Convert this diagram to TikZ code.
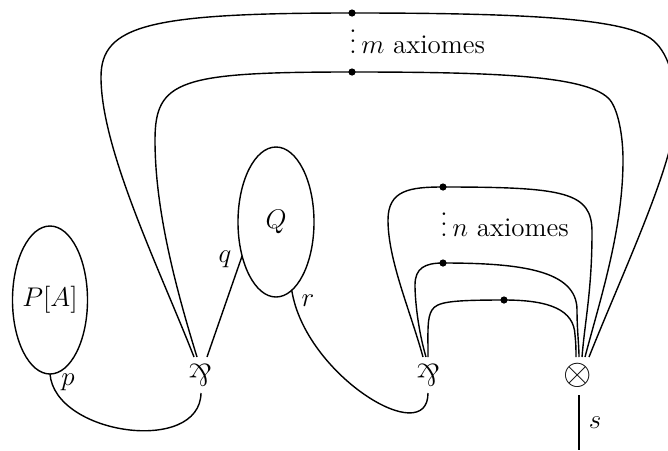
\RequirePackage{fix-cm}
\documentclass[tikz,border=0pt]{standalone}
\usetikzlibrary{shapes.geometric,calc}
\newcommand{\axdots}{\vbox{\baselineskip5.2pt\lineskiplimit0pt\hbox{.}\hbox{.}\hbox{.}}}
\begin{document}
\begin{tikzpicture}[x=0.5pt,y=-0.5pt,
  every node/.style={font=\fontsize{13.5}{16}\selectfont},
  wire/.style={line width=0.7pt},
  blob/.style={draw,ellipse,line width=0.7pt,inner sep=0pt,outer sep=0pt},
  dot/.style={circle,fill,inner sep=0pt,minimum size=3.6pt},
  lbl/.style={inner sep=0pt}]
\useasboundingbox (0,0) rectangle (668,450);

% proof structures
\node[blob,minimum width=37.5pt,minimum height=74pt] (P) at (50,300) {\makebox[0pt]{$P[A]$}};
\node[blob,minimum width=38pt,minimum height=75pt] (Q) at (276,222) {$Q$};

% links
\node[lbl] (par1) at (200,375) {\scalebox{1.15}{\rotatebox[origin=c]{180}{\&}}};
\node[lbl] (par2) at (428,375) {\scalebox{1.15}{\rotatebox[origin=c]{180}{\&}}};
\node[lbl] (tensor) at (578,375) {\scalebox{1.35}{$\otimes$}};

% axiom dots
\node[dot] (md1) at (352,13) {};
\node[dot] (md2) at (352,72) {};
\node[dot] (nd1) at (443,187) {};
\node[dot] (nd2) at (443,263) {};
\node[dot] (nd3) at (504,300) {};

% labels
\node[lbl,anchor=base west] (mlab) at (349,53) {\axdots\,$m$ axiomes};
\node[lbl,anchor=base west] (nlab) at (440,236) {\axdots\,$n$ axiomes};
\node[lbl] (lp) at (68,382) {$p$};
\node[lbl] (lq) at (225,259) {$q$};
\node[lbl] (lr) at (308,301) {$r$};
\node[lbl] (ls) at (595,423) {$s$};

\coordinate (send) at (579,450);

% m axioms
\draw[wire] ($(par1)+(-6,-18)$) .. controls (160,270) and (101,150) .. (101,77)
  .. controls (101,25) and (150,13) .. (md1.center)
  .. controls (520,13) and (620,18) .. (650,38)
  .. controls (668,50) and (676,80) .. (676,110)
  .. controls (676,160) and (625,267) .. ($(tensor)+(11,-18)$);
\draw[wire] ($(par1)+(-3,-18)$) .. controls (170,270) and (155,200) .. (155,140)
  .. controls (155,80) and (180,72) .. (md2.center)
  .. controls (500,72) and (590,76) .. (610,100)
  .. controls (618,110) and (623,135) .. (623,160)
  .. controls (623,230) and (600,300) .. ($(tensor)+(7,-18)$);

% n axioms
\draw[wire] ($(par2)+(-5,-18)$) .. controls (410,310) and (388,260) .. (388,220)
  .. controls (388,190) and (410,187) .. (nd1.center)
  .. controls (565,187) and (592,192) .. (592,232)
  .. controls (592,290) and (585,320) .. ($(tensor)+(4,-18)$);
\draw[wire] ($(par2)+(-2,-18)$) .. controls (418,330) and (415,300) .. (415,285)
  .. controls (415,268) and (425,263) .. (nd2.center)
  .. controls (520,263) and (577,270) .. (577,310)
  .. controls (577,330) and (579,345) .. ($(tensor)+(1,-18)$);
\draw[wire] ($(par2)+(0,-18)$) .. controls (428,330) and (427,318) .. (432,310)
  .. controls (437,302) and (450,300) .. (nd3.center)
  .. controls (550,300) and (574,310) .. (575,335)
  .. controls (576,345) and (576,350) .. ($(tensor)+(-2,-18)$);

% other wires
\draw[wire] ($(par1)+(7,-18)$) -- (Q.225);
\draw[wire] (P.south) .. controls (55,435) and (200,455) .. ($(par1)+(1,18)$);
\draw[wire] (Q.283) .. controls (305,375) and (428,450) .. ($(par2)+(0,18)$);
\draw[wire] ($(tensor)+(1,20)$) -- (send);
\end{tikzpicture}
\end{document}
